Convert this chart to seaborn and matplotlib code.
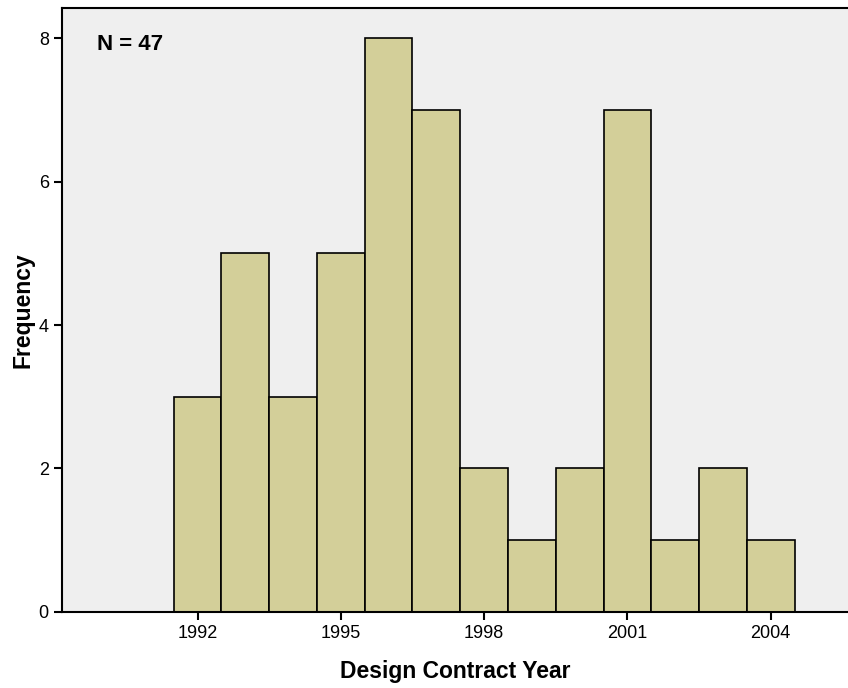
import matplotlib
matplotlib.use("Agg")
import matplotlib.pyplot as plt
import seaborn as sns
import pandas as pd

years = [1992, 1993, 1994, 1995, 1996, 1997, 1998, 1999, 2000, 2001, 2002, 2003, 2004]
counts = [3, 5, 3, 5, 8, 7, 2, 1, 2, 7, 1, 2, 1]
xticks = [1992, 1995, 1998, 2001, 2004]
yticks = [0, 2, 4, 6, 8]

sns.set_style("ticks")
plt.rcParams['font.family'] = ['Liberation Sans', 'DejaVu Sans']
plt.rcParams['text.color'] = 'black'
plt.rcParams['axes.labelcolor'] = 'black'

df = pd.DataFrame({"year": years, "count": counts})

fig = plt.figure(figsize=(8.48, 6.88), dpi=100)
ax = fig.add_axes([0.0731, 0.1105, 0.9269, 0.878])
ax.set_facecolor("#EFEFEF")

sns.histplot(data=df, x="year", weights="count", discrete=True, ax=ax,
             color="#D3CF99", alpha=1, edgecolor="black", linewidth=1.2)

ax.set_xlim(1989.16, 2005.62)
ax.set_ylim(0, 8.42)
ax.set_xticks(xticks)
ax.set_yticks(yticks)
ax.tick_params(axis="both", direction="out", length=6, width=1.5, labelsize=13,
               colors="black", labelcolor="black")
for s in ["left", "bottom", "top"]:
    ax.spines[s].set_visible(True)
    ax.spines[s].set_linewidth(1.5)
    ax.spines[s].set_color("black")
ax.spines["right"].set_visible(False)

ax.set_xlabel("Design Contract Year", fontsize=16.5, fontweight="bold", labelpad=13, color="black")
ax.set_ylabel("Frequency", fontsize=16.5, fontweight="bold", labelpad=3, color="black")
ax.text(0.045, 0.94, "N = 47", transform=ax.transAxes, fontsize=16,
        fontweight="bold", va="center", ha="left", color="black")

fig.savefig("out.png", dpi=100, facecolor="white")
